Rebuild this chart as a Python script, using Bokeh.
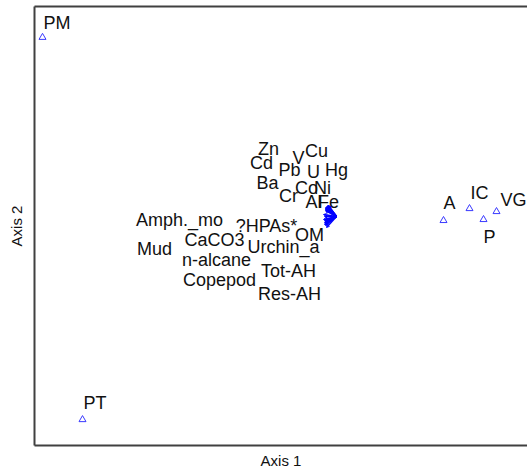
from bokeh.plotting import figure
from bokeh.models import ColumnDataSource, Range1d, LinearAxis, FixedTicker, Arrow, OpenHead
from bokeh.embed import file_html
from bokeh.resources import INLINE
from bokeh.core.properties import value

# Sample (site) scores
site_names = ["PM", "PT", "A", "IC", "P", "VG"]
site_x = [-2.94, -2.54, 1.07, 1.33, 1.47, 1.60]
site_y = [1.80, -2.04, -0.04, 0.08, -0.03, 0.05]
# label placement relative to each marker (pixels)
site_label_dx = [1, 1, 0, 1, 0, 4]
site_label_dy = [-14, -17, -18, -16, 17, -12]

# Variable labels (positions of the names)
var_names = ["Zn", "V", "Cu", "Cd", "Pb", "U", "Hg", "Ba", "Co", "Ni", "Cr", "Al", "Fe",
             "Amph._mo", "?HPAs*", "OM", "Mud", "CaCO3", "Urchin_a", "n-alcane",
             "Tot-AH", "Copepod", "Res-AH"]
var_label_x = [-0.68, -0.38, -0.20, -0.75, -0.47, -0.23, 0.00, -0.69, -0.30, -0.14, -0.48, -0.23, -0.08,
               -1.57, -0.70, -0.27, -1.82, -1.22, -0.53, -1.20,
               -0.48, -1.17, -0.47]
var_label_y = [0.68, 0.59, 0.66, 0.54, 0.47, 0.45, 0.47, 0.34, 0.29, 0.29, 0.21, 0.15, 0.15,
               -0.03, -0.09, -0.19, -0.33, -0.24, -0.31, -0.44,
               -0.55, -0.64, -0.78]
# Variable vectors (short arrows from the centre)
var_vec_x = [-0.10, -0.09, -0.08, -0.11, -0.10, -0.09, -0.08, -0.11, -0.10, -0.09, -0.11, -0.11, -0.10,
             -0.13, -0.12, -0.11, -0.13, -0.12, -0.11, -0.12,
             -0.11, -0.12, -0.10]
var_vec_y = [0.10, 0.11, 0.11, 0.09, 0.09, 0.10, 0.11, 0.08, 0.08, 0.09, 0.07, 0.06, 0.07,
             0.02, 0.00, -0.05, -0.03, -0.04, -0.07, -0.06,
             -0.09, -0.08, -0.11]

FONT = "Liberation Sans"
FRAME = "#404040"

p = figure(width=527, height=471, output_backend="svg", toolbar_location=None,
           x_range=Range1d(-3.02, 1.91), y_range=Range1d(-2.30, 2.11),
           x_axis_label="Axis 1", y_axis_label="Axis 2",
           min_border_left=34, min_border_right=0, min_border_top=6, min_border_bottom=24)
p.grid.visible = False
p.outline_line_color = None
p.background_fill_color = "white"
p.border_fill_color = "white"

for ax in (p.xaxis[0], p.yaxis[0]):
    ax.ticker = FixedTicker(ticks=[])
    ax.major_tick_line_color = None
    ax.minor_tick_line_color = None
    ax.major_tick_out = 0
    ax.major_label_standoff = 0
    ax.major_label_text_font_size = "0px"
    ax.axis_line_color = FRAME
    ax.axis_line_width = 2
    ax.axis_label_text_font = FONT
    ax.axis_label_text_font_size = "15px"
    ax.axis_label_text_font_style = "normal"
    ax.axis_label_text_color = "#111111"
p.xaxis[0].axis_label_standoff = 6
p.yaxis[0].axis_label_standoff = 10

top = LinearAxis(ticker=FixedTicker(ticks=[]), axis_line_color=FRAME, axis_line_width=2,
                 major_tick_line_color=None, minor_tick_line_color=None, major_tick_out=0,
                 major_label_standoff=0, major_label_text_font_size="0px")
p.add_layout(top, "above")

# vectors
vec_src = ColumnDataSource(dict(x0=[0.0] * len(var_vec_x), y0=[0.0] * len(var_vec_y),
                                x1=var_vec_x, y1=var_vec_y))
p.add_layout(Arrow(end=OpenHead(size=3, line_color="#0000ff", line_width=1),
                   x_start="x0", y_start="y0", x_end="x1", y_end="y1", source=vec_src,
                   line_color="#0000ff", line_width=1.5))

# sites
site_src = ColumnDataSource(dict(x=site_x, y=site_y, name=site_names,
                                 dx=site_label_dx, dy=site_label_dy))
p.scatter("x", "y", source=site_src, marker="triangle", size=7, fill_color=None,
          line_color="#3a3aff", line_width=1)
p.text("x", "y", text="name", source=site_src, x_offset="dx", y_offset="dy",
       text_font=value(FONT), text_font_size="18px", text_align="left",
       text_baseline="middle", text_color="#111111")

# variable labels
var_src = ColumnDataSource(dict(x=var_label_x, y=var_label_y, name=var_names))
p.text("x", "y", text="name", source=var_src,
       text_font=value(FONT), text_font_size="18px", text_align="center",
       text_baseline="middle", text_color="#111111")

open("out.html", "w").write(file_html(p, INLINE))
